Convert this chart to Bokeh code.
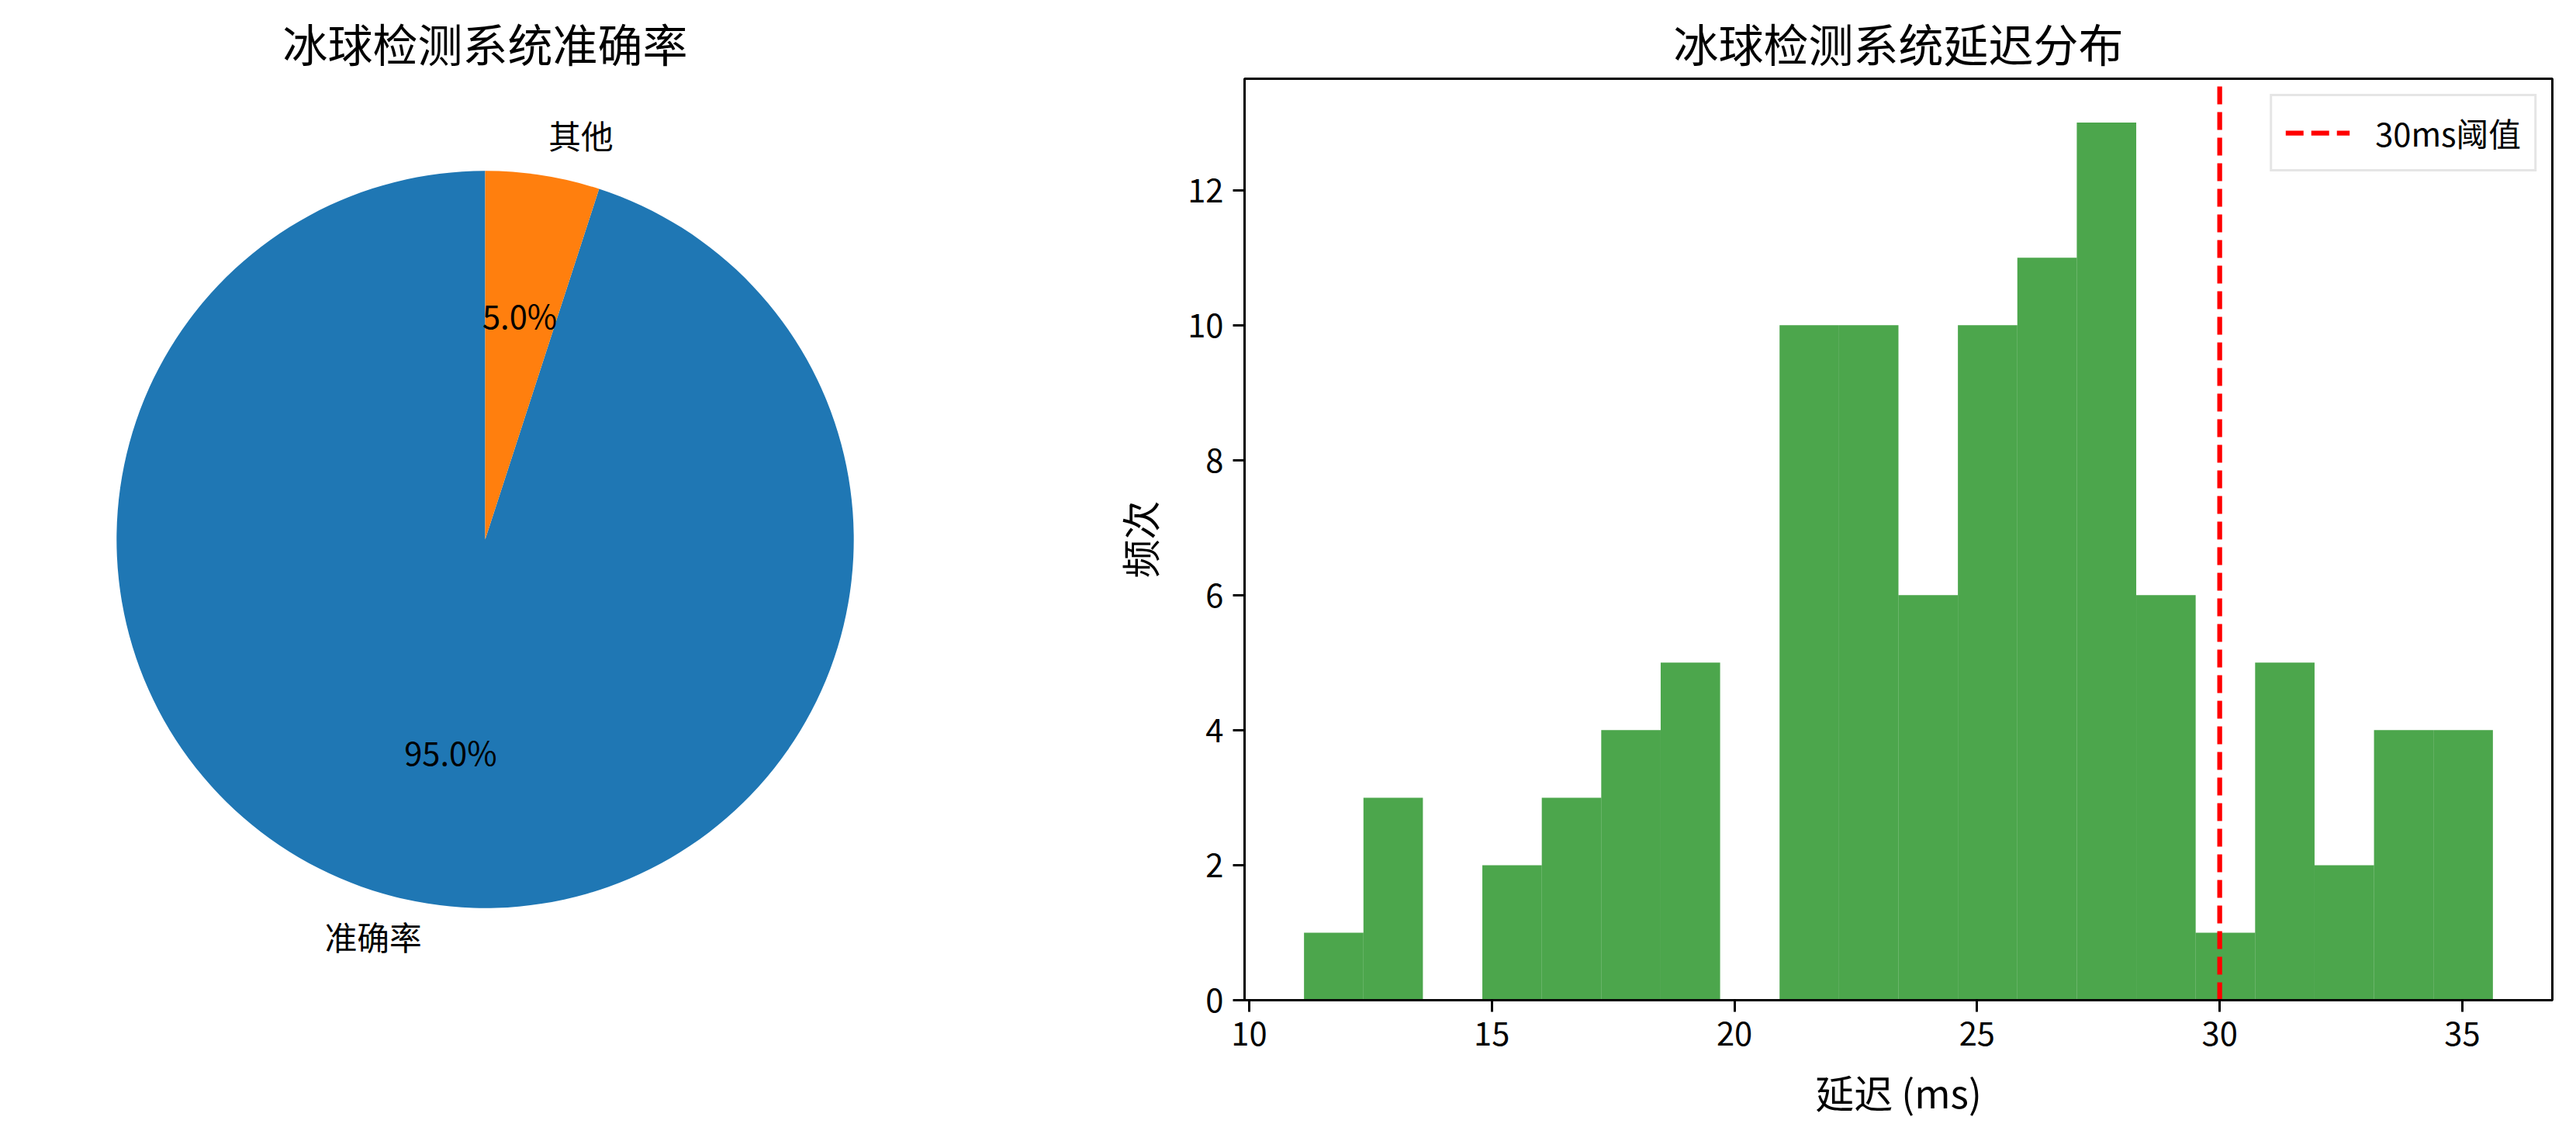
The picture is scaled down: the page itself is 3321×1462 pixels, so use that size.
import numpy as np
from bokeh.plotting import figure
from bokeh.layouts import row
from bokeh.models import Range1d, Legend, LegendItem, FixedTicker
from bokeh.embed import file_html
from bokeh.resources import INLINE
from bokeh.core.properties import value

# ---------------- data ----------------
pie_labels = ["准确率", "其他"]
pie_values = [95.0, 5.0]
pie_colors = ["#1f77b4", "#ff7f0e"]

bin_start = 11.13
bin_width = 1.225
counts = [1, 3, 0, 2, 3, 4, 5, 0, 10, 10, 6, 10, 11, 13, 6, 1, 5, 2, 4, 4]
threshold = 30
x_ticks = [10, 15, 20, 25, 30, 35]
y_ticks = [0, 2, 4, 6, 8, 10, 12]

FONT = "Noto Sans CJK SC"
TICK_FS = "41.7px"
LABEL_FS = "50px"
TITLE_FS = "58px"

H = 1454
TOP_B = 101
BOT_B = 165

# ---------------- pie ----------------
PW = 1358
P_LEFT = 8
P_RIGHT = 116
frame_w = PW - P_RIGHT - P_LEFT
frame_h = H - TOP_B - BOT_B
half_y = 1.25
half_x = half_y * frame_w / frame_h

p1 = figure(width=PW, height=H, output_backend="svg", toolbar_location=None,
            min_border_left=P_LEFT, min_border_right=P_RIGHT,
            min_border_top=TOP_B, min_border_bottom=BOT_B,
            x_axis_type=None, y_axis_type=None,
            x_range=Range1d(-half_x, half_x), y_range=Range1d(-half_y, half_y),
            title="冰球检测系统准确率")
p1.outline_line_color = None
p1.grid.visible = False
p1.title.text_font = FONT
p1.title.text_font_size = TITLE_FS
p1.title.text_font_style = "normal"
p1.title.text_color = "black"
p1.title.align = "center"

vals = np.array(pie_values, dtype=float)
fracs = vals / vals.sum()
starts = np.deg2rad(90 + 360 * np.concatenate([[0], np.cumsum(fracs)[:-1]]))
ends = starts + 2 * np.pi * fracs
for s, e, c in zip(starts, ends, pie_colors):
    p1.wedge(x=0, y=0, radius=1, start_angle=s, end_angle=e, direction="anticlock",
             fill_color=c, line_color=None)

for lab, s, e, f in zip(pie_labels, starts, ends, fracs):
    m = (s + e) / 2
    xt, yt = 1.1 * np.cos(m), 1.1 * np.sin(m)
    p1.text(x=[xt], y=[yt], text=[lab], text_font=value(FONT), text_font_size=TICK_FS,
            text_align="left" if xt > 0 else "right", text_baseline="middle",
            text_color="black", y_offset=-5)
    xp, yp = 0.6 * np.cos(m), 0.6 * np.sin(m)
    p1.text(x=[xp], y=[yp], text=[f"{f*100:.1f}%"], text_font=value(FONT), text_font_size=TICK_FS,
            text_align="center", text_baseline="middle", text_color="black", y_offset=-8)

# ---------------- histogram ----------------
HW = 1955
edges = bin_start + bin_width * np.arange(len(counts) + 1)
data_min, data_max = edges[0], edges[-1]
pad = 0.05 * (data_max - data_min)
y_max = max(counts) * 1.05

p2 = figure(width=HW, height=H, output_backend="svg", toolbar_location=None,
            min_border_left=246, min_border_right=23,
            min_border_top=TOP_B, min_border_bottom=BOT_B,
            x_range=Range1d(data_min - pad, data_max + pad), y_range=Range1d(0, y_max),
            title="冰球检测系统延迟分布")
p2.title.text_font = FONT
p2.title.text_font_size = TITLE_FS
p2.title.text_font_style = "normal"
p2.title.text_color = "black"
p2.title.align = "center"
p2.grid.visible = False
p2.outline_line_color = "black"
p2.outline_line_width = 3

p2.quad(left=edges[:-1], right=edges[1:], bottom=0, top=counts,
        fill_color="green", fill_alpha=0.7, line_color=None)

thr = p2.line(x=[threshold, threshold], y=[0, y_max], line_color="red",
              line_width=6.25, line_dash="23 10")

for ax in (p2.xaxis[0], p2.yaxis[0]):
    ax.axis_line_width = 3
    ax.axis_line_color = "black"
    ax.major_tick_line_width = 3
    ax.major_tick_line_color = "black"
    ax.major_tick_in = 0
    ax.major_tick_out = 15
    ax.minor_tick_line_color = None
    ax.major_label_text_font = FONT
    ax.major_label_text_font_size = TICK_FS
    ax.major_label_text_color = "black"
    ax.axis_label_text_font = FONT
    ax.axis_label_text_font_size = LABEL_FS
    ax.axis_label_text_font_style = "normal"
    ax.axis_label_text_color = "black"
    ax.major_label_standoff = 12
p2.xaxis.ticker = FixedTicker(ticks=x_ticks)
p2.yaxis.ticker = FixedTicker(ticks=y_ticks)
p2.xaxis.axis_label = "延迟 (ms)"
p2.yaxis.axis_label = "频次"
p2.xaxis.axis_label_standoff = 20
p2.yaxis.axis_label_standoff = 24

legend = Legend(items=[LegendItem(label="30ms阈值", renderers=[thr])], location="top_right")
legend.label_text_font = FONT
legend.label_text_font_size = TICK_FS
legend.label_text_color = "black"
legend.padding = 17
legend.spacing = 0
legend.margin = 20
legend.glyph_width = 83
legend.glyph_height = 40
legend.label_height = 40
legend.label_standoff = 33
legend.border_line_color = "#cccccc"
legend.border_line_width = 3
legend.background_fill_alpha = 0.8
p2.add_layout(legend)

layout = row(p1, p2)
open("out.html", "w").write(file_html(layout, INLINE))
